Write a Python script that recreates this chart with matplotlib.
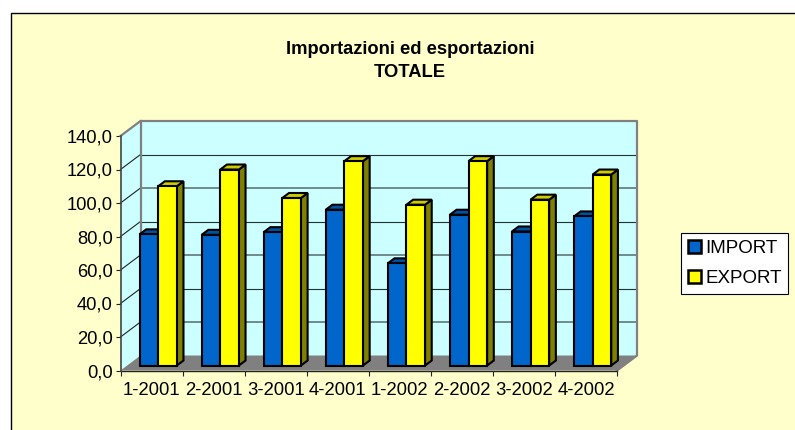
import matplotlib
matplotlib.use("Agg")
import matplotlib.pyplot as plt
from matplotlib.patches import Polygon, Patch, Rectangle
import numpy as np

quarters = ["1-2001", "2-2001", "3-2001", "4-2001", "1-2002", "2-2002", "3-2002", "4-2002"]
import_vals = [78.3, 78, 79.6, 93, 61, 90, 80, 89]
export_vals = [107, 117, 100, 122, 96, 122, 99, 114]
y_ticks = [0, 20, 40, 60, 80, 100, 120, 140]

W, H = 795, 430
BG = "#FFFFCC"
WALL = "#CCFFFF"
GREY = "#808080"
BLUE = "#0066CC"
YELLOW = "#FFFF00"
DARK_YELLOW = "#808000"
TOP_YELLOW = "#CCCC00"
DARK_BLUE = "#003366"
TOP_BLUE = "#0052A3"

plt.rcParams["font.family"] = ["Liberation Sans", "DejaVu Sans"]

fig = plt.figure(figsize=(W / 100, H / 100), dpi=100, facecolor="white")
# frame of the chart, right and bottom edges run off the picture
fig.add_artist(Rectangle((10.5 / W, -0.05), 1.1, 1.05 - 13 / H, transform=fig.transFigure,
                         facecolor=BG, edgecolor="black", linewidth=1.0, zorder=-5))

# axes = front plane of the 3d box
left, right, bottom, top = 120.5, 617, 370.5, 136
ax = fig.add_axes([left / W, 1 - bottom / H, (right - left) / W, (bottom - top) / H])
ax.set_xlim(0, len(quarters))
ax.set_ylim(0, 140)
ax.patch.set_alpha(0)
for s in ax.spines.values():
    s.set_visible(False)

# depth of the box in data units
dx = 20 / ((right - left) / len(quarters))
dy = 15 / ((bottom - top) / 140)


def poly(pts, fc, ec="none", lw=0, z=1):
    ax.add_patch(Polygon(pts, closed=True, facecolor=fc, edgecolor=ec, linewidth=lw,
                         zorder=z, clip_on=False, joinstyle="miter"))


n = len(quarters)
# back wall, side wall, floor
poly([(dx, dy), (n + dx, dy), (n + dx, 140 + dy), (dx, 140 + dy)], WALL, z=1)
poly([(0, 0), (dx, dy), (dx, 140 + dy), (0, 140)], WALL, z=1)
poly([(0, 0), (n, 0), (n + dx, dy), (dx, dy)], GREY, z=2)

# gridlines on side and back wall, the back ones alternate like the reference
for k, v in enumerate(y_ticks[1:-1]):
    ax.plot([0, dx], [v, v + dy], color="#222222", lw=0.8, zorder=2, clip_on=False)
    back_col, back_lw = ("#5F7878", 1.2) if k % 2 == 0 else ("#223333", 0.8)
    ax.plot([dx, n + dx], [v + dy, v + dy], color=back_col, lw=back_lw, zorder=2, clip_on=False)

# grey wall borders
ax.plot([0, dx, n + dx, n + dx, n], [140, 140 + dy, 140 + dy, dy, 0], color=GREY, lw=1.6, zorder=2,
        clip_on=False)
ax.plot([dx, dx], [dy, 140 + dy], color=GREY, lw=1.6, zorder=2, clip_on=False)


def bar3d(x0, w, val, fc, side, topc, z):
    # bar sits in the middle third of the depth
    ox, oy = dx / 3, dy / 3
    bx, by = dx * 2 / 3, dy * 2 / 3
    poly([(x0 + w + ox, oy), (x0 + w + bx, by), (x0 + w + bx, val + by), (x0 + w + ox, val + oy)],
         side, "black", 1.5, z)
    poly([(x0 + ox, val + oy), (x0 + w + ox, val + oy), (x0 + w + bx, val + by), (x0 + bx, val + by)],
         topc, "black", 1.5, z)
    poly([(x0 + ox, oy), (x0 + w + ox, oy), (x0 + w + ox, val + oy), (x0 + ox, val + oy)],
         fc, "black", 1.5, z + 0.5)


bar_w = 0.3
for i, (a, b) in enumerate(zip(import_vals, export_vals)):
    bar3d(i + 0.2, bar_w, a, BLUE, DARK_BLUE, TOP_BLUE, 3 + i)
    bar3d(i + 0.5, bar_w, b, YELLOW, DARK_YELLOW, TOP_YELLOW, 3 + i + 0.2)

# axis lines and ticks
ax.plot([0, n], [0, 0], color="#222222", lw=1.0, zorder=30, clip_on=False)
ax.plot([0, 0], [0, 140], color="#444444", lw=1.2, zorder=30, clip_on=False)
ax.set_yticks(y_ticks)
ax.set_yticklabels([f"{v:.1f}".replace(".", ",") for v in y_ticks], fontsize=13.2, color="black")
ax.set_xticks(np.arange(n + 1))
ax.set_xticklabels([""] * (n + 1))
ax.tick_params(axis="both", length=3.5, width=0.8, color="#222222", pad=2)
for i, q in enumerate(quarters):
    ax.annotate(q, (i + 0.5, 0), xytext=(0, -8.5), textcoords="offset points", ha="center", va="top",
                fontsize=13.3, annotation_clip=False)

fig.text(410 / W, 1 - 49.5 / H, "Importazioni ed esportazioni", ha="center", va="center",
         fontsize=13.2, fontweight="bold")
fig.text(410 / W, 1 - 72.5 / H, "TOTALE", ha="center", va="center", fontsize=13.2, fontweight="bold")

handles = [Patch(facecolor=BLUE, edgecolor="black", linewidth=1.8, label="IMPORT"),
           Patch(facecolor=YELLOW, edgecolor="black", linewidth=1.8, label="EXPORT")]
leg = fig.legend(handles=handles, loc="upper left", bbox_to_anchor=(681 / W, 1 - 233 / H),
                 borderaxespad=0, fontsize=13.5, fancybox=False, framealpha=1, facecolor="white",
                 edgecolor="black", handlelength=0.68, handleheight=0.68, handletextpad=0.25,
                 labelspacing=0.72, borderpad=0.36)
leg.get_frame().set_linewidth(0.8)

fig.savefig("out.png", dpi=100)
